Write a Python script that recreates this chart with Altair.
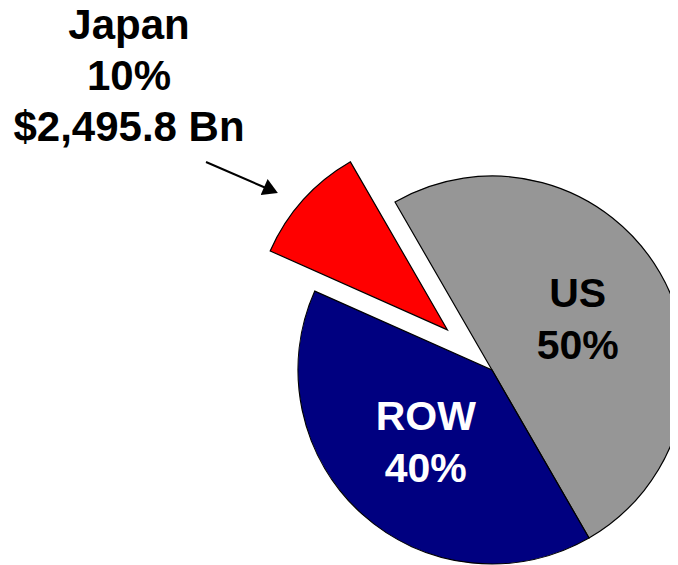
import math
import altair as alt
import pandas as pd

# ---- data ----
regions = ["US", "ROW", "Japan"]
shares = [50, 40, 10]
order = [1, 2, 3]
japan_value_bn = 2495.8
colors = ["#969696", "#000080", "#FF0000"]

df = pd.DataFrame({"region": regions, "share": shares, "order": order})

# geometry (chart coordinates)
CX, CY, R = 484, 362, 194
start_angle = 11 * math.pi / 6  # US begins at -30 deg (clockwise from 12 o'clock)
explode = 60
jp_mid = start_angle + 2 * math.pi * (1 - 0.05)  # mid of Japan slice
JX = CX + explode * math.sin(jp_mid)
JY = CY - explode * math.cos(jp_mid)

theta_scale = alt.Scale(domain=[0, 100], range=[start_angle, start_angle + 2 * math.pi])
color_scale = alt.Scale(domain=regions, range=colors)

base = (
    alt.Chart(df)
    .transform_window(cum="sum(share)", sort=[alt.SortField("order")], frame=[None, 0])
    .transform_calculate(start="datum.cum - datum.share", mid="datum.cum - datum.share/2")
)

arc_enc = dict(
    theta=alt.Theta("start:Q", scale=theta_scale, stack=None),
    theta2="cum:Q",
    color=alt.Color("region:N", scale=color_scale, legend=None),
)

main_arcs = (
    base.transform_filter("datum.region != 'Japan'")
    .mark_arc(radius=R, stroke="black", strokeWidth=1.2)
    .encode(x=alt.value(CX), y=alt.value(CY), **arc_enc)
)

japan_arc = (
    base.transform_filter("datum.region == 'Japan'")
    .mark_arc(radius=R, stroke="black", strokeWidth=1.2)
    .encode(x=alt.value(JX), y=alt.value(JY), **arc_enc)
)

inner_labels = (
    base.transform_filter("datum.region != 'Japan'")
    .transform_calculate(label="datum.region + '\\n' + datum.share + '%'")
    .mark_text(
        radius=99, font="Liberation Sans", fontWeight="bold", fontSize=41,
        lineBreak="\n", lineHeight=52, align="center", baseline="middle", dy=-26,
    )
    .encode(
        x=alt.value(CX), y=alt.value(CY),
        theta=alt.Theta("mid:Q", scale=theta_scale, stack=None),
        text="label:N",
        color=alt.condition("datum.region == 'ROW'", alt.value("white"), alt.value("black")),
    )
)

# Japan call-out label, one text mark per line
jp_lines = [
    "datum.region",
    "datum.share + '%'",
    "'$' + format(" + str(japan_value_bn) + ", ',.1f') + ' Bn'",
]
jp_label_layers = []
for i, expr in enumerate(jp_lines):
    jp_label_layers.append(
        base.transform_filter("datum.region == 'Japan'")
        .transform_calculate(label=expr)
        .mark_text(
            font="Liberation Sans", fontWeight="bold", fontSize=42, color="black",
            align="center", baseline="middle", dy=51 * i,
        )
        .encode(x=alt.value(121), y=alt.value(18), text="label:N")
    )

arrow_line = (
    alt.Chart(pd.DataFrame({"a": [0]}))
    .mark_rule(color="black", strokeWidth=2)
    .encode(x=alt.value(198), y=alt.value(154), x2=alt.value(258), y2=alt.value(180))
)
arrow_head = (
    alt.Chart(pd.DataFrame({"a": [0]}))
    .mark_point(shape="triangle-right", filled=True, color="black", size=300, angle=23.6, opacity=1)
    .encode(x=alt.value(263), y=alt.value(182))
)

chart = (
    alt.layer(main_arcs, japan_arc, inner_labels, *jp_label_layers, arrow_line, arrow_head)
    .properties(width=662, height=557, autosize=alt.AutoSizeParams(type="none"), padding=0)
    .configure_view(stroke=None)
)

chart.save("out.html", embed_options={"renderer": "svg", "actions": False})
